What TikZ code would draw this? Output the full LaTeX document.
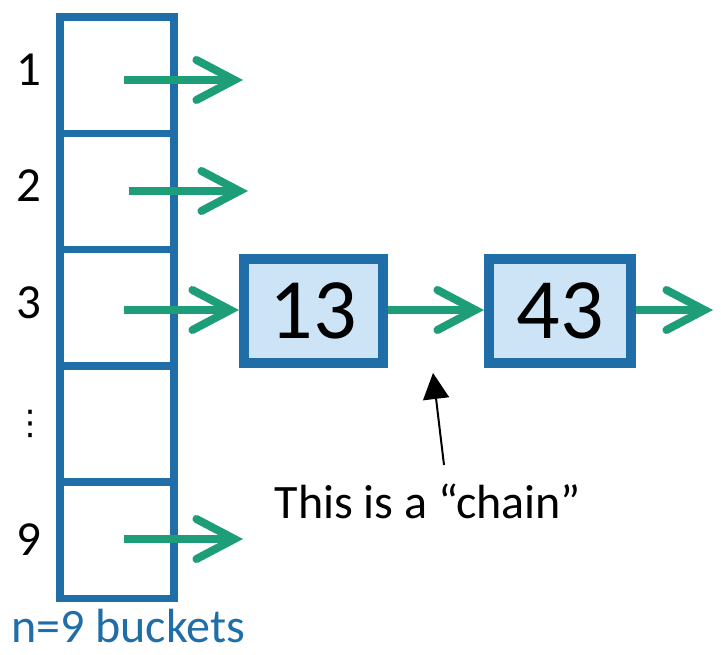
\documentclass[tikz,border=0pt]{standalone}
\usepackage{fontspec}
\setmainfont{Carlito}
\newfontfamily\symfont{DejaVu Sans}
\usetikzlibrary{arrows.meta}
\definecolor{bucketblue}{RGB}{31,110,168}
\definecolor{cellfill}{RGB}{204,228,246}
\definecolor{linkgreen}{RGB}{30,158,120}
\tikzset{
  cell/.style={draw=bucketblue, line width=7.5pt, minimum width=114pt, minimum height=116.3pt, inner sep=0pt},
  chainbox/.style={draw=bucketblue, fill=cellfill, line width=10pt, minimum height=104pt, inner sep=0pt,
    font=\fontsize{86}{90}\selectfont},
  idx/.style={anchor=base, font=\fontsize{49}{56}\selectfont},
  link/.style={draw=linkgreen, line width=8pt,
    -{Straight Barb[length=38pt,width=40pt,line cap=round]}},
  pointer/.style={draw=black, line width=2pt, -{Triangle[length=26pt,width=26pt]}},
}
\begin{document}
\begin{tikzpicture}[x=1pt,y=-1pt]
\useasboundingbox (0,0) rectangle (721,655);

% bucket array
\node[cell] (b1) at (117,75.15) {};
\node[cell] (b2) at (117,191.45) {};
\node[cell] (b3) at (117,307.75) {};
\node[cell] (b4) at (117,424.05) {};
\node[cell] (b5) at (117,540.35) {};

% bucket indices
\node[idx] (l1) at (29,86) {1};
\node[idx] (l2) at (29,202) {2};
\node[idx] (l3) at (29,319) {3};
\node[anchor=center, font=\symfont\fontsize{34}{40}\selectfont, inner sep=0pt] (l4) at (30,424) {⋮};
\node[idx] (l9) at (29,555) {9};

% chain nodes
\node[chainbox, minimum width=139pt] (c13) at (313.5,311) {13};
\node[chainbox, minimum width=142pt] (c43) at (560,311) {43};

% link starts and free ends
\coordinate (s1) at (124,80);
\coordinate (e1) at (243,80);
\coordinate (s2) at (129,191);
\coordinate (e2) at (248,191);
\coordinate (s3) at (124,310);
\coordinate (s9) at (124,539);
\coordinate (e9) at (243,539);
\coordinate (e43) at (713,310);

\draw[link] (s1) -- (e1);
\draw[link] (s2) -- (e2);
\draw[link] (s3) -- (s3 -| c13.west);
\draw[link] (s9) -- (e9);
\draw[link] (c13.east |- s3) -- (c43.west |- s3);
\draw[link] (c43.east |- s3) -- (e43);

% annotation
\node[anchor=base, font=\fontsize{48}{56}\selectfont] (note) at (428,518) {This is a “chain”};
\coordinate (ptrtail) at (444,465);
\coordinate (ptrtip) at (433,373);
\draw[pointer] (ptrtail) -- (ptrtip);

\node[anchor=base west, text=bucketblue, font=\fontsize{48}{56}\selectfont, inner sep=0pt] (caption) at (11,642) {n=9 buckets};
\end{tikzpicture}
\end{document}
